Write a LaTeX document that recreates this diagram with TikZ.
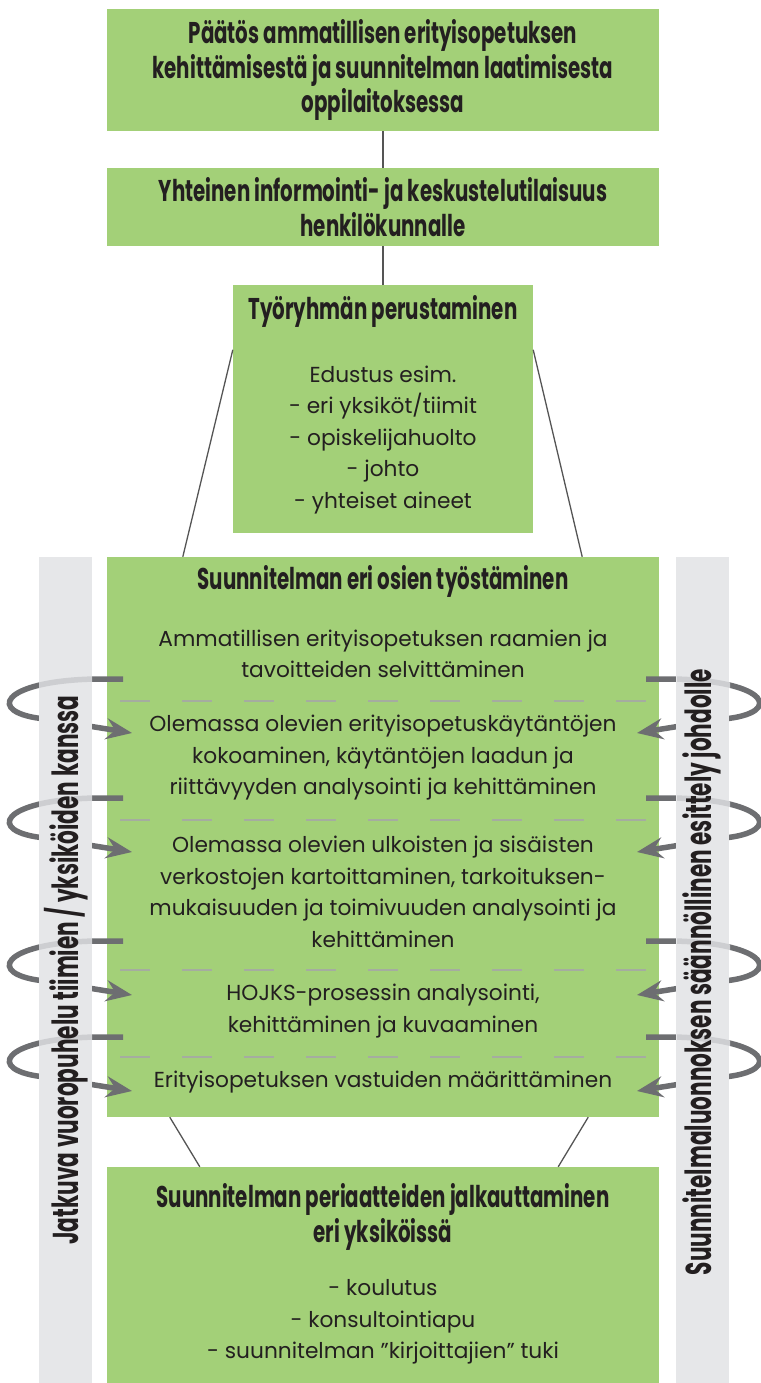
\documentclass[tikz,border=0pt]{standalone}
\usepackage{fontspec}
\setmainfont{Poppins}
\newfontfamily\condfont{Poppins}[FakeStretch=0.66]
\newfontfamily\barfont{Poppins}[FakeStretch=0.6]
\usetikzlibrary{positioning,calc,arrows.meta}

\definecolor{boxgreen}{RGB}{163,208,120}
\definecolor{bargray}{RGB}{230,231,233}
\definecolor{loopgray}{RGB}{109,110,113}
\definecolor{loopfaint}{RGB}{205,206,209}
\definecolor{dashgray}{RGB}{165,172,160}
\definecolor{linegray}{RGB}{85,85,85}
\definecolor{inkblack}{RGB}{35,31,32}

\tikzset{
  box/.style={fill=boxgreen, inner sep=0pt, align=center, text=inkblack},
  headtext/.style={font=\condfont\bfseries\fontsize{30}{34.5}\selectfont, align=center, text=inkblack},
  bodytext/.style={font=\fontsize{21.7}{31.5}\selectfont, align=center, text=inkblack},
  sidebar/.style={fill=bargray, minimum width=53pt, minimum height=826pt, inner sep=0pt},
  bartext/.style={font=\barfont\bfseries\fontsize{36}{40}\selectfont, rotate=90, text=inkblack},
  link/.style={draw=linegray, line width=1.3pt},
  divider/.style={draw=dashgray, line width=1.6pt, dash pattern=on 30pt off 32pt},
  loopline/.style={draw=loopgray, line width=5.5pt, -{Stealth[length=26pt,width=21pt,inset=9pt]}},
  loopfade/.style={draw=loopfaint, line width=5.5pt},
}

\begin{document}
\begin{tikzpicture}[x=1pt,y=-1pt]
\useasboundingbox (0,0) rectangle (760,1383);

% boxes
\node[box,headtext,minimum width=552pt,minimum height=122pt] (decision) at (383,70)
  {Päätös ammatillisen erityisopetuksen\\kehittämisestä ja suunnitelman laatimisesta\\oppilaitoksessa};
\node[box,headtext,minimum width=552pt,minimum height=78pt] (info) at (383,207)
  {Yhteinen informointi- ja keskustelutilaisuus\\henkilökunnalle};
\node[box,minimum width=300pt,minimum height=248pt] (team) at (383,409) {};
\node[box,minimum width=552pt,minimum height=560pt] (work) at (383,837) {};
\node[box,minimum width=552pt,minimum height=216pt] (rollout) at (383,1275) {};

% texts inside
\node[headtext] (teamtitle) at (383,311) {Työryhmän perustaminen};
\node[bodytext] (teambody) at (383,440)
  {Edustus esim.\\- eri yksiköt/tiimit\\- opiskelijahuolto\\- johto\\- yhteiset aineet};
\node[headtext] (worktitle) at (383,581) {Suunnitelman eri osien työstäminen};
\node[bodytext] (step1) at (383,654)
  {Ammatillisen erityisopetuksen raamien ja\\tavoitteiden selvittäminen};
\node[bodytext] (step2) at (383,758)
  {Olemassa olevien erityisopetuskäytäntöjen\\kokoaminen, käytäntöjen laadun ja\\riittävyyden analysointi ja kehittäminen};
\node[bodytext] (step3) at (383,892)
  {Olemassa olevien ulkoisten ja sisäisten\\verkostojen kartoittaminen, tarkoituksen-\\mukaisuuden ja toimivuuden analysointi ja\\kehittäminen};
\node[bodytext] (step4) at (383,1011)
  {HOJKS-prosessin analysointi,\\kehittäminen ja kuvaaminen};
\node[bodytext] (step5) at (383,1082) {Erityisopetuksen vastuiden määrittäminen};
\node[headtext] (rollouttitle) at (383,1217)
  {Suunnitelman periaatteiden jalkauttaminen\\eri yksiköissä};
\node[bodytext] (rolloutbody) at (383,1322)
  {- koulutus\\- konsultointiapu\\- suunnitelman ”kirjoittajien” tuki};

% dividers
\foreach \y in {701,820,970,1057}
  \draw[divider] (120,\y) -- (648,\y);

% connectors
\draw[link] (decision) -- (info);
\draw[link] (info) -- (team);
\draw[link] ($(team.north west)+(0,65)$) -- ($(work.north west)+(76,0)$);
\draw[link] ($(team.north east)+(0,65)$) -- ($(work.north east)+(-77,0)$);
\draw[link] ($(work.south west)+(63,0)$) -- ($(rollout.north west)+(93,0)$);
\draw[link] ($(work.south east)+(-71,0)$) -- ($(rollout.north east)+(-101,0)$);

% loops round the side bars
\foreach \y in {679,798,941,1037}{
  \draw[loopline] (123,\y) -- (95,\y) .. controls (0,\y+2) and (-15,\y+34) .. (45,\y+40) -- (132,\y+54);
  \begin{scope}[xshift=769pt,xscale=-1]
    \draw[loopline] (123,\y) -- (95,\y) .. controls (0,\y+2) and (-15,\y+34) .. (45,\y+40) -- (132,\y+54);
  \end{scope}
}

\node[sidebar] (leftbar) at (65.5,970) {};
\node[sidebar] (rightbar) at (702.5,970) {};

\foreach \y in {679,798,941,1037}{
  \begin{scope}
    \clip (39,\y-10) rectangle (92,\y+14);
    \draw[loopfade] (95,\y) .. controls (0,\y+2) and (-15,\y+34) .. (45,\y+40);
  \end{scope}
  \begin{scope}[xshift=769pt,xscale=-1]
    \clip (39,\y-10) rectangle (92,\y+14);
    \draw[loopfade] (95,\y) .. controls (0,\y+2) and (-15,\y+34) .. (45,\y+40);
  \end{scope}
}

\node[bartext] (lefttext) at (66,970) {Jatkuva vuoropuhelu tiimien / yksiköiden kanssa};
\node[bartext] (righttext) at (702,972) {Suunnitelmaluonnoksen säännöllinen esittely johdolle};
\end{tikzpicture}
\end{document}
